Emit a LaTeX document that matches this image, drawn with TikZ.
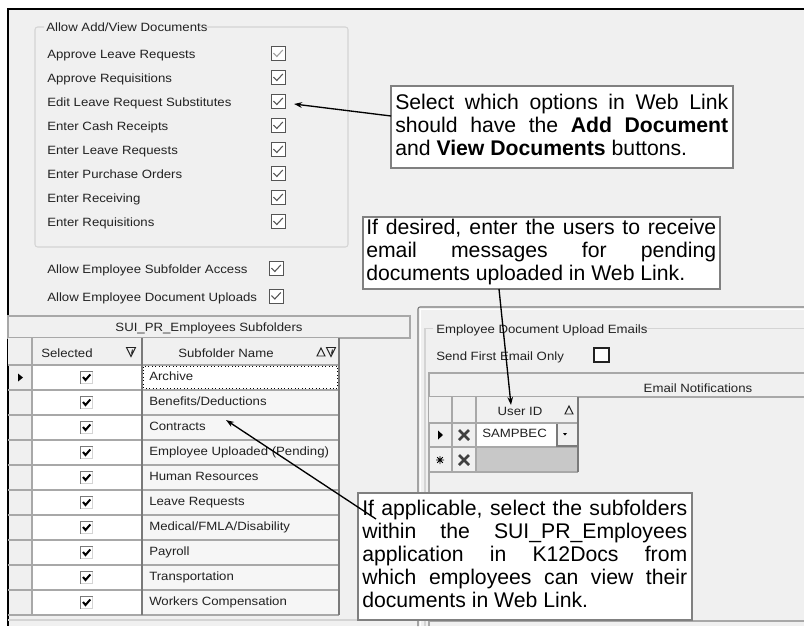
\documentclass[tikz,border=0pt]{standalone}
\usepackage{fontspec}
\setmainfont{Liberation Sans}
\newfontfamily\uifont{Liberation Sans}[FakeStretch=1.1]
\usetikzlibrary{arrows.meta,fit}

\definecolor{appbg}{HTML}{F0F0F0}
\definecolor{uitext}{HTML}{222222}
\definecolor{gridline}{HTML}{A8A8A8}
\definecolor{griddark}{HTML}{7A7A7A}
\definecolor{groupline}{HTML}{D4D4D4}
\definecolor{cellgray}{HTML}{F6F6F6}
\definecolor{newrow}{HTML}{C8C8C8}
\definecolor{boxline}{HTML}{808080}
\definecolor{checkgray}{HTML}{555555}
\definecolor{checklight}{HTML}{A0A0A0}

\tikzset{
  ui/.style={font=\uifont\fontsize{9}{11}\selectfont, text=uitext, inner sep=0pt, anchor=base west},
  uic/.style={ui, anchor=base},
  callout/.style={draw=boxline, fill=white, line width=0.9pt, inner sep=0pt},
  callouttext/.style={font=\fontsize{15.9}{17.25}\selectfont, text=black, inner sep=0pt, anchor=base west},
  conn/.style={draw=black, line width=1pt, -{Stealth[length=6pt,width=4.2pt]}},
}

% option check box of the upper group: centre x, centre y, check colour
\newcommand\uiCheck[3]{%
  \draw[checkgray, fill=white, line width=0.7pt] (#1-7,#2-7) rectangle (#1+7,#2+7);
  \draw[#3, line width=0.8pt] (#1-4.5,#2-0.5) -- (#1-1.2,#2+3) -- (#1+4.8,#2-3.5);}

% 3D check box of the grid
\newcommand\gridCheck[2]{%
  \fill[white] (#1-6,#2-6) rectangle (#1+6,#2+6);
  \draw[griddark, line width=1.3pt] (#1-6,#2+6) -- (#1-6,#2-6) -- (#1+6,#2-6);
  \draw[groupline, line width=0.8pt] (#1+6,#2-6) -- (#1+6,#2+6) -- (#1-6,#2+6);
  \draw[black, line width=1.5pt] (#1-3.5,#2-0.5) -- (#1-1,#2+2.5) -- (#1+3.8,#2-3);}

% delete button of the e-mail grid
\newcommand\delIcon[2]{%
  \draw[black!75, line width=2.1pt] (#1-5,#2-5) -- (#1+5,#2+5) (#1-5,#2+5) -- (#1+5,#2-5);}

% small outlined triangles of the column headers
\newcommand\sortUp[2]{\draw[uitext, line width=0.7pt] (#1-4,#2+4) -- (#1+4,#2+4) -- (#1,#2-4) -- cycle;}
\newcommand\filterDown[2]{\draw[uitext, line width=0.7pt] (#1-4.5,#2-4.5) -- (#1+4.5,#2-4.5) -- (#1,#2+4.5) -- cycle (#1+1.5,#2-2.5) -- (#1+0.5,#2+1.5);}

\begin{document}
\begin{tikzpicture}[x=0.75pt,y=-0.75pt]
\fill[white] (0,0) rectangle (804,626);
\useasboundingbox (0,0) rectangle (804,626);

% window
\fill[appbg] (8,9) rectangle (804,626);
\draw[black, line width=1pt] (804,9) -- (8,9) -- (8,626);

% ---- group: Allow Add/View Documents
\draw[groupline, line width=0.8pt, rounded corners=2pt]
  (44,27) -- (35,27) -- (35,247) -- (348,247) -- (348,27) -- (206,27);
\node[ui] (grpA) at (46,31) {Allow Add/View Documents};

\foreach \t [count=\i from 0] in {Approve Leave Requests, Approve Requisitions,
    Edit Leave Request Substitutes, Enter Cash Receipts, Enter Leave Requests,
    Enter Purchase Orders, Enter Receiving, Enter Requisitions} {
  \node[ui] (opt\i) at (47,58+24*\i) {\t};
}
\uiCheck{278}{53.5}{checklight}
\foreach \i in {1,...,7} { \uiCheck{278}{53.5+24*\i}{checkgray} }

\node[ui] (subAccess) at (47,273) {Allow Employee Subfolder Access};
\uiCheck{276}{268.5}{checkgray}
\node[ui] (docUploads) at (47,301) {Allow Employee Document Uploads};
\uiCheck{276}{296}{checkgray}

% ---- left grid: SUI_PR_Employees Subfolders
\draw[gridline, fill=appbg, line width=0.8pt] (8,316) rectangle (410,338);
\node[uic] (gridTitle) at (209,331.5) {SUI\_PR\_Employees Subfolders};

% column header row
\fill[appbg] (8,338) rectangle (339,365);
\node[uic] (hdrSel) at (67,357) {Selected};
\filterDown{131}{352}
\node[uic] (hdrName) at (226,357) {Subfolder Name};
\sortUp{321}{352}
\filterDown{331}{352}

% data rows
\fill[white] (32,365) rectangle (142,615);
\fill[cellgray] (142,365) rectangle (339,615);
\fill[white] (142,365) rectangle (339,390);
\foreach \t [count=\i from 0] in {Archive, Benefits/Deductions, Contracts,
    Employee Uploaded (Pending), Human Resources, Leave Requests,
    Medical/FMLA/Disability, Payroll, Transportation, Workers Compensation} {
  \node[ui] (sub\i) at (149,380+25*\i) {\t};
  \gridCheck{86.5}{377.5+25*\i}
}
\foreach \i in {0,...,10} { \draw[gridline, line width=0.8pt] (8,365+25*\i) -- (339,365+25*\i); }
\draw[gridline, line width=0.8pt] (32,338) -- (32,615);
\draw[griddark, line width=0.8pt] (142,338) -- (142,615) (339,338) -- (339,615);
\draw[black, dotted, line width=0.6pt] (143.5,366.5) rectangle (337.5,388.5);
\fill[black] (18,373.5) -- (23,377.5) -- (18,381.5) -- cycle;
\draw[groupline, line width=0.8pt] (8,620) -- (412,620);

% ---- right panel
\draw[griddark, line width=0.8pt] (418,626) -- (418,309) arc (180:270:2) -- (804,307);
\draw[white, line width=0.8pt] (420.5,626) -- (420.5,309.5) -- (804,309.5);
\draw[groupline, line width=0.8pt] (433,328.5) -- (425,328.5) -- (425,626);
\draw[groupline, line width=0.8pt] (639,328.5) -- (804,328.5);
\node[ui] (grpB) at (436,333) {Employee Document Upload Emails};
\node[ui] (firstOnly) at (436,360) {Send First Email Only};
\draw[uitext, fill=white, line width=0.8pt] (594,348) rectangle (609,362);

% e-mail notification grid
\draw[gridline, line width=0.8pt] (804,373) -- (429,373) -- (429,626);
\node[uic] (hdrMail) at (698,392) {Email Notifications};
\draw[gridline, line width=1.5pt] (429,397) -- (804,397);
\fill[appbg] (429,397) rectangle (578,423);
\node[uic] (hdrUser) at (520,415) {User ID};
\sortUp{569}{410}
\fill[white] (476,423) rectangle (557,447);
\fill[appbg] (557,424) rectangle (578,447);
\fill[newrow] (476,447) rectangle (578,472);
\foreach \y in {423,447,472} { \draw[gridline, line width=0.8pt] (429,\y) -- (578,\y); }
\draw[gridline, line width=0.8pt] (452,397) -- (452,472) (476,397) -- (476,472);
\draw[griddark, line width=0.8pt] (578,397) -- (578,472);
\draw[griddark, line width=0.8pt] (557,424) -- (557,446) -- (577,446);
\fill[black] (567,433) -- (563,433) -- (565,435.5) -- cycle;
\node[ui] (userVal) at (482,437) {SAMPBEC};
\fill[black] (438,430.5) -- (443,435) -- (438,439.5) -- cycle;
\draw[black, line width=0.7pt] (436,460) -- (444,460) (440,456) -- (440,464)
  (437.2,457.2) -- (442.8,462.8) (437.2,462.8) -- (442.8,457.2);
\delIcon{464}{435}
\delIcon{464}{460}
\draw[gridline, line width=0.8pt] (429,621) -- (804,621);

% ---- callouts
\node[callout, fit={(391,86) (733,168)}] (noteButtons) {};
\node[callouttext] (noteButtonsText) at (395,109) {\parbox[t]{249.75pt}{%
  \makebox[\linewidth][s]{Select which options in Web Link}\\
  \makebox[\linewidth][s]{should have the \textbf{Add Document}}\\
  and \textbf{View Documents} buttons.}};

\node[callout, fit={(363,217) (720,289)}] (noteEmails) {};
\node[callouttext] (noteEmailsText) at (366,234) {\parbox[t]{262.5pt}{%
  \makebox[\linewidth][s]{If desired, enter the users to receive}\\
  \makebox[\linewidth][s]{email messages for pending}\\
  documents uploaded in Web Link.}};

\node[callout, fit={(358,493) (692,620)}] (noteFolders) {};
\node[callouttext] (noteFoldersText) at (362,515) {\parbox[t]{243.75pt}{%
  \makebox[\linewidth][s]{If applicable, select the subfolders}\\
  \makebox[\linewidth][s]{within the SUI\_PR\_Employees}\\
  \makebox[\linewidth][s]{application in K12Docs from}\\
  \makebox[\linewidth][s]{which employees can view their}\\
  documents in Web Link.}};

% ---- connectors
\coordinate (fromButtons) at (391,116);
\coordinate (toOptions) at (294,104);
\coordinate (fromEmails) at (499,289);
\coordinate (toUser) at (511,405);
\coordinate (fromFolders) at (376,519);
\coordinate (toFolders) at (226,420);
\draw[conn] (fromButtons) -- (toOptions);
\draw[conn] (fromEmails) -- (toUser);
\draw[conn] (fromFolders) -- (toFolders);
\end{tikzpicture}
\end{document}
